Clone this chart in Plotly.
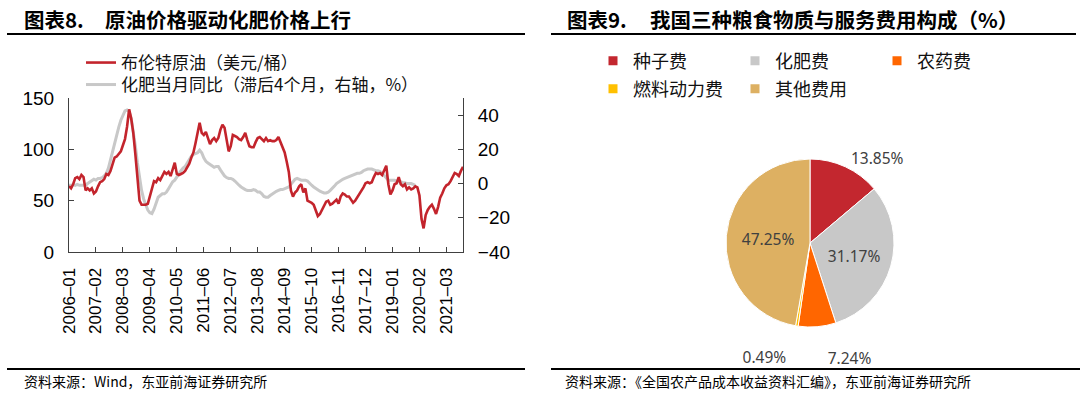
import pandas as pd
import plotly.graph_objects as go

# ---------------- data ----------------
months = [d.strftime("%Y-%m") for d in pd.date_range("2006-01-01", "2021-11-01", freq="MS")]

brent = [
    64, 62, 66, 72, 73, 71, 75, 73, 60, 62, 60, 62,          # 2006
    57, 59, 64, 68, 69, 71, 76, 75, 79, 85, 92, 93,          # 2007
    95, 98, 104, 110, 122, 139, 130, 116, 95, 75, 50, 46,    # 2008
    46, 46, 47, 54, 63, 69, 68, 72, 70, 74, 78, 76,          # 2009
    78, 74, 80, 87, 76, 75, 76, 77, 79, 83, 86, 92,          # 2010
    97, 106, 116, 126, 116, 114, 117, 110, 105, 109, 111, 108,  # 2011
    111, 119, 124, 121, 110, 98, 103, 114, 113, 112, 110, 109,  # 2012
    112, 116, 109, 103, 102, 102, 107, 111, 112, 110, 108, 111,  # 2013
    108, 109, 108, 108, 109, 112, 107, 101, 97, 88, 78, 60,   # 2014
    54, 58, 60, 64, 66, 58, 62, 50, 49, 48, 46, 40,          # 2015
    35, 37, 41, 45, 49, 50, 46, 47, 49, 51, 47, 54,          # 2016
    57, 56, 54, 54, 51, 48, 50, 53, 57, 60, 63, 67,          # 2017
    68, 67, 68, 73, 77, 76, 77, 75, 80, 84, 66, 56,          # 2018
    60, 66, 67, 73, 66, 64, 66, 61, 63, 61, 62, 64,          # 2019
    63, 55, 32, 23, 36, 41, 44, 46, 42, 37, 44, 53,          # 2020
    57, 62, 65, 66, 69, 73, 77, 76, 74, 79, 83,              # 2021
]

fert_yoy = [
    -1, -1, -0.5, -1, -0.5, -1, -1, -1, -1, 0, 1, 2,
    2.5, 2, 3, 3, 3.5, 4.5, 6, 9, 14, 19, 24, 29,
    33, 37, 40, 42.5, 43, 42, 38, 31, 22, 12, 3, -4,
    -9, -13, -15.5, -17, -17.5, -15, -11, -8, -7, -6, -6, -5,
    -3, -1, 1, 2, 4, 6, 7.5, 9, 10, 12, 14, 16,
    17, 17.5, 18, 19.5, 18, 15, 13, 12, 11, 10, 9.5, 10,
    10, 8, 6, 4.5, 3.5, 3, 3, 2.5, 1.5, 0, -1, -2,
    -3, -3.5, -4, -4, -4, -3.5, -4, -5, -5, -6, -7.5, -8,
    -8, -7, -6, -5, -4.5, -4, -3.5, -3.5, -3, -2.5, -2, -0.5,
    1, 2.5, 3, 2.5, 2, 2, 2, 1.5, 0, -1, -2, -3,
    -3.5, -4.5, -5, -5.5, -5.5, -5, -4, -3, -1.5, 0, 1, 2,
    2.5, 3, 3.5, 4, 4.5, 5, 5.5, 6, 6, 6.5, 7.5, 8,
    8.5, 8.5, 8.5, 8, 7.5, 7.5, 7, 6, 4.5, 3, 2, 2,
    2, 2, 1.5, 1, 1, 0.5, 0.5, 0, 0, 0, -0.5, -1,
]
fert_yoy = fert_yoy + [None] * (len(months) - len(fert_yoy))

tick_months = months[::13]
tick_labels = [m.replace("-", "–") for m in tick_months]

series_names = ["布伦特原油（美元/桶）", "化肥当月同比（滞后4个月，右轴，%）"]

cost_items = ["种子费", "化肥费", "农药费", "燃料动力费", "其他费用"]
cost_share = [13.85, 31.17, 7.24, 0.49, 47.25]

# ---------------- style ----------------
W, H = 1080, 393
RED = "#C3242C"
GREY = "#C8C8C8"
PIE_COLORS = ["#C3272F", "#C8C8C8", "#FF6600", "#FFC000", "#DDB062"]
AX = "#404040"
CJK = "Noto Sans CJK SC"
LAT = "Liberation Sans"


def px(x):
    return x / W


def py(y):
    return (H - y) / H


fig = go.Figure()

fig.add_trace(go.Scatter(
    x=months, y=fert_yoy, name=series_names[1], mode="lines",
    line=dict(color=GREY, width=3), yaxis="y", legend="legend2",
    connectgaps=False, hoverinfo="skip"))
fig.add_trace(go.Scatter(
    x=months, y=brent, name=series_names[0], mode="lines",
    line=dict(color=RED, width=2.6), yaxis="y2", legend="legend",
    hoverinfo="skip"))

pie_tpl = ["%{value:.2f}%", "%{value:.2f}%", "&nbsp;<br>%{value:.2f}%",
           "&nbsp;<br>%{value:.2f}%", "%{value:.2f}%"]
fig.add_trace(go.Pie(
    labels=cost_items, values=cost_share, sort=False, direction="clockwise",
    rotation=0, showlegend=False,
    marker=dict(colors=PIE_COLORS, line=dict(color="white", width=1)),
    texttemplate=pie_tpl,
    textposition=["outside", "inside", "outside", "outside", "inside"],
    insidetextorientation="horizontal",
    textfont=dict(family="Noto Sans", size=15.5, color="#404040"),
    domain=dict(x=[px(726), px(894)], y=[py(327), py(159)]),
    hoverinfo="skip"))

# legend entries for the pie (two rows)
for i, (name, col) in enumerate(zip(cost_items, PIE_COLORS)):
    fig.add_trace(go.Scatter(
        x=[None], y=[None], mode="markers", name=name,
        marker=dict(symbol="square", size=9, color=col),
        legend="legend3" if i < 3 else "legend4", hoverinfo="skip"))

leg_font = dict(family=CJK, size=17, color="#111111")
pie_leg_font = dict(family=CJK, size=18, color="#111111")
fig.update_layout(
    width=W, height=H,
    margin=dict(l=0, r=0, t=0, b=0, autoexpand=False),
    paper_bgcolor="white", plot_bgcolor="white",
    xaxis=dict(
        type="category", categoryorder="array", categoryarray=months,
        domain=[px(69), px(463)], range=[0, len(months) - 1],
        tickmode="array", tickvals=tick_months, ticktext=tick_labels,
        tickangle=-90, ticks="inside", ticklen=5, tickcolor=AX,
        showline=True, linecolor=AX, linewidth=1, showgrid=False,
        zeroline=False, ticklabelstandoff=8, automargin=False,
        tickfont=dict(family=LAT, size=17, color="#000")),
    yaxis=dict(
        domain=[py(252), py(98)], range=[-40, 50], side="right",
        tickvals=[-40, -20, 0, 20, 40], ticks="inside", ticklen=5,
        tickcolor=AX, showline=True, linecolor=AX, linewidth=1,
        showgrid=False, zeroline=False, anchor="x", ticklabelstandoff=10,
        automargin=False,
        tickfont=dict(family=LAT, size=19, color="#000")),
    yaxis2=dict(
        overlaying="y", side="left", range=[0, 150], tickvals=[0, 50, 100, 150],
        ticks="inside", ticklen=5, tickcolor=AX, showline=True, linecolor=AX,
        linewidth=1, showgrid=False, zeroline=False, anchor="x",
        ticklabelstandoff=10, automargin=False,
        tickfont=dict(family=LAT, size=19, color="#000")),
    legend=dict(x=px(81), y=py(63), xanchor="left", yanchor="middle",
                orientation="v", font=leg_font, bgcolor="rgba(0,0,0,0)"),
    legend2=dict(x=px(81), y=py(85), xanchor="left", yanchor="middle",
                 orientation="v", font=leg_font, bgcolor="rgba(0,0,0,0)"),
    legend3=dict(x=px(593), y=py(61), xanchor="left", yanchor="middle",
                 orientation="h", entrywidth=97, font=pie_leg_font,
                 bgcolor="rgba(0,0,0,0)"),
    legend4=dict(x=px(593), y=py(89), xanchor="left", yanchor="middle",
                 orientation="h", entrywidth=97, font=pie_leg_font,
                 bgcolor="rgba(0,0,0,0)"),
)

# titles
title_font = dict(family=CJK, size=20.5, color="#000")
for x0, txt in [(22, "<b>图表8.</b>"), (103, "<b>原油价格驱动化肥价格上行</b>"),
                (565, "<b>图表9.</b>"), (648, "<b>我国三种粮食物质与服务费用构成（%）</b>")]:
    fig.add_annotation(x=px(x0), y=py(19), xref="paper", yref="paper",
                       xanchor="left", yanchor="middle", text=txt,
                       showarrow=False, font=title_font)

# footers
foot_font = dict(family=CJK, size=14, color="#000")
for x0, txt in [(22, "资料来源：Wind，东亚前海证券研究所"),
                (563, "资料来源：《全国农产品成本收益资料汇编》，东亚前海证券研究所")]:
    fig.add_annotation(x=px(x0), y=py(381), xref="paper", yref="paper",
                       xanchor="left", yanchor="middle", text=txt,
                       showarrow=False, font=foot_font)

# rule lines
for (xa, xb, yy, w) in [(7, 525, 34, 2), (551, 1076, 34, 2),
                        (7, 525, 369, 2), (551, 1080, 369, 2)]:
    fig.add_shape(type="line", xref="paper", yref="paper",
                  x0=px(xa), x1=px(xb), y0=py(yy), y1=py(yy),
                  line=dict(color="#000", width=w))

fig.write_html("out.html", config={"displayModeBar": False},
               post_script="document.body.style.margin='0';")
